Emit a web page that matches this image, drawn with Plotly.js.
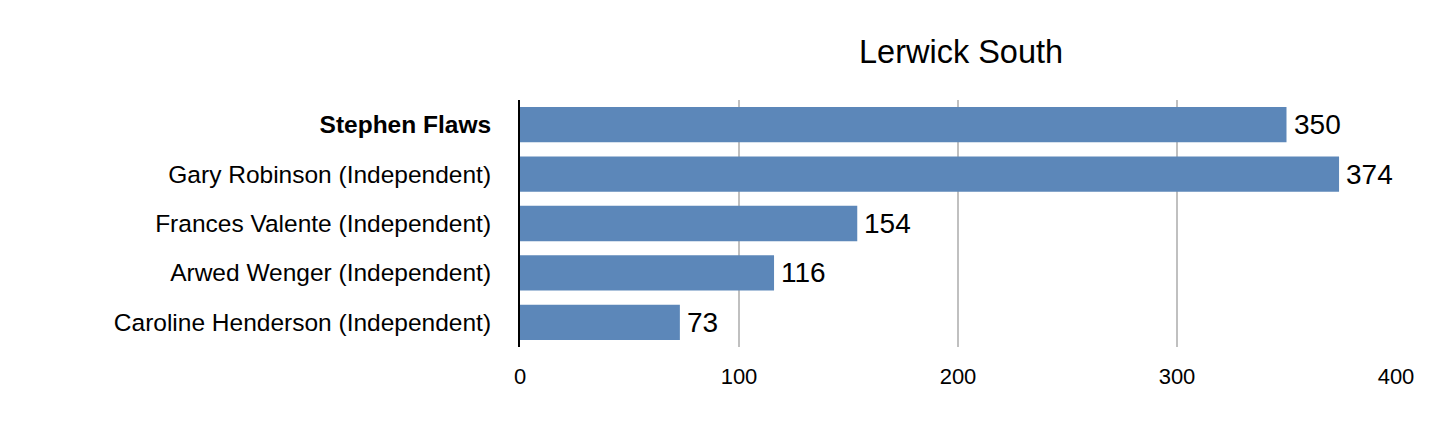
<!DOCTYPE html>
<html>
<head>
<meta charset="utf-8">
<script src="https://cdn.plot.ly/plotly-3.0.1.min.js"></script>
<style>html,body{margin:0;padding:0;background:#fff;}#chart{width:1452px;height:433px;}</style>
</head>
<body>
<div id="chart"></div>
<script>
const chartTitle = "Lerwick South";
const candidates = [
  "Stephen Flaws",
  "Gary Robinson (Independent)",
  "Frances Valente (Independent)",
  "Arwed Wenger (Independent)",
  "Caroline Henderson (Independent)"
];
const votes = [350, 374, 154, 116, 73];
const boldCandidates = ["Stephen Flaws"];
const xTicks = [0, 100, 200, 300, 400];

const tickText = candidates.map(c => boldCandidates.includes(c) ? "<b>" + c + "</b>" : c);

const trace = {
  type: "bar",
  orientation: "h",
  x: votes,
  y: candidates,
  marker: {color: "#5c87b9"},
  hoverinfo: "none"
};

const annotations = candidates.map((c, i) => ({
  x: votes[i], y: c, xref: "x", yref: "y",
  text: String(votes[i]), showarrow: false,
  xanchor: "left", yanchor: "middle", xshift: 5,
  font: {family: "Liberation Sans, Arial, sans-serif", size: 28, color: "#000"}
}));

const layout = {
  width: 1452, height: 433,
  margin: {l: 520, r: 56, t: 100, b: 86, pad: 0},
  paper_bgcolor: "#fff", plot_bgcolor: "#fff",
  font: {family: "Liberation Sans, Arial, sans-serif", color: "#000"},
  title: {
    text: chartTitle,
    font: {size: 32.5, color: "#000"},
    x: 0.5035, xref: "paper", xanchor: "center",
    y: 1 - 52/433, yref: "container", yanchor: "middle"
  },
  bargap: 0.286,
  showlegend: false,
  xaxis: {
    range: [0, 400],
    tickvals: xTicks,
    ticktext: xTicks.map(String),
    showgrid: true, gridcolor: "#c0c0c0", gridwidth: 2,
    zeroline: false, showline: false,
    ticks: "", ticklabelstandoff: 14,
    tickfont: {size: 22, color: "#000"},
    fixedrange: true
  },
  yaxis: {
    autorange: "reversed",
    tickvals: candidates,
    ticktext: tickText,
    showgrid: false, zeroline: false,
    showline: true, linecolor: "#000", linewidth: 2,
    ticks: "", ticklabelstandoff: 22,
    tickfont: {size: 24.5, color: "#000"},
    fixedrange: true
  },
  annotations: annotations
};

Plotly.newPlot("chart", [trace], layout, {displayModeBar: false, staticPlot: true});
</script>
</body>
</html>
